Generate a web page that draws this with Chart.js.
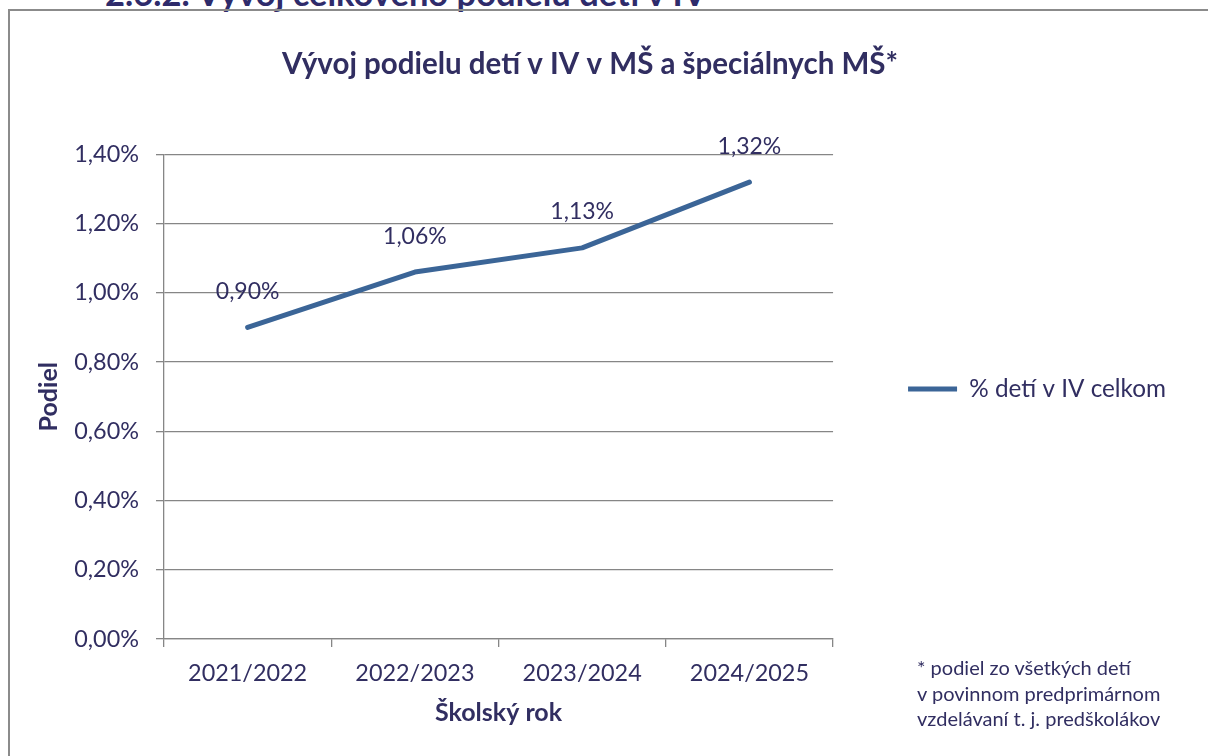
<!DOCTYPE html>
<html lang="sk">
<head>
<meta charset="utf-8">
<title>Vývoj podielu detí v IV</title>
<script src="https://cdn.jsdelivr.net/npm/chart.js@4.4.1/dist/chart.umd.min.js"></script>
<style>
  html, body { margin: 0; padding: 0; background: #ffffff; overflow: hidden; }
  #page { position: relative; width: 1208px; height: 756px; overflow: hidden; background: #ffffff; }
  #heading { position: absolute; left: 105px; top: -24px; font: bold 34.5px Lato, sans-serif; line-height: 34px; color: #2E2B6B; white-space: nowrap; }
  #frame { position: absolute; left: 8px; top: 9px; width: 1400px; height: 900px; border: 2px solid #8B8B8B; box-sizing: border-box; }
  #chartBox { position: absolute; left: 0; top: 0; width: 1208px; height: 756px; }
  #footnote { position: absolute; left: 917px; top: 655px; font: 20px Lato, sans-serif; line-height: 25.5px; color: #312E61; white-space: nowrap; }
</style>
</head>
<body>
<div id="page">
  <div id="heading"></div>
  <div id="frame"></div>
  <div id="chartBox"><canvas id="chart"></canvas></div>
  <div id="footnote"></div>
</div>
<script>
// ---- data ----
const headingText = '2.6.2. Vývoj celkového podielu detí v IV';
const chartTitle = 'Vývoj podielu detí v IV v MŠ a špeciálnych MŠ*';
const categories = ['2021/2022', '2022/2023', '2023/2024', '2024/2025'];
const shareValues = [0.90, 1.06, 1.13, 1.32];
const seriesLabel = '% detí v IV celkom';
const xAxisTitle = 'Školský rok';
const yAxisTitle = 'Podiel';
const yMin = 0;
const yMax = 1.4;
const yStep = 0.2;
const footnoteLines = ['* podiel zo všetkých detí', 'v povinnom predprimárnom', 'vzdelávaní t. j. predškolákov'];

// ---- text outside the chart ----
document.getElementById('heading').textContent = headingText;
document.getElementById('footnote').innerHTML = footnoteLines.map(l => '<div>' + l + '</div>').join('');

const navy = '#312E61';
const gridGray = '#868686';
const lineBlue = '#3B6597';
const fmtPct = v => v.toFixed(2).replace('.', ',') + '%';

const dataLabels = {
  id: 'dataLabels',
  afterDatasetsDraw(chart) {
    const ctx = chart.ctx;
    const meta = chart.getDatasetMeta(0);
    const ds = chart.data.datasets[0];
    ctx.save();
    ctx.font = '23px Lato, sans-serif';
    ctx.fillStyle = navy;
    ctx.textAlign = 'center';
    ctx.textBaseline = 'middle';
    meta.data.forEach((pt, i) => {
      ctx.fillText(fmtPct(ds.data[i]), pt.x, pt.y - 36);
    });
    ctx.restore();
  }
};

new Chart(document.getElementById('chart'), {
  type: 'line',
  data: {
    labels: categories,
    datasets: [{
      label: seriesLabel,
      data: shareValues,
      borderColor: lineBlue,
      backgroundColor: lineBlue,
      borderWidth: 5,
      borderCapStyle: 'round',
      borderJoinStyle: 'round',
      pointRadius: 0,
      pointHoverRadius: 0,
      tension: 0,
      fill: false,
      clip: false
    }]
  },
  options: {
    responsive: true,
    maintainAspectRatio: false,
    animation: false,
    events: [],
    layout: { padding: { left: 4, right: 32, top: 0, bottom: 0 } },
    plugins: {
      title: {
        display: true,
        text: chartTitle,
        color: navy,
        font: { family: 'Lato', size: 29.5, weight: 'bold', lineHeight: 1.2 },
        padding: { top: 47, bottom: 72 }
      },
      legend: {
        display: true,
        position: 'right',
        maxWidth: 420,
        title: { display: true, text: ' ', font: { size: 10, lineHeight: 1.2 }, padding: 5 },
        labels: {
          color: navy,
          font: { family: 'Lato', size: 24.3 },
          usePointStyle: true,
          pointStyle: 'line',
          pointStyleWidth: 49,
          padding: 75
        }
      },
      tooltip: { enabled: false }
    },
    scales: {
      x: {
        type: 'category',
        offset: true,
        afterFit(scale) { scale.height = 117; },
        grid: { offset: true, drawOnChartArea: false, drawTicks: true, tickLength: 8, color: gridGray, lineWidth: 1.3 },
        border: { display: true, color: gridGray, width: 1.3 },
        ticks: { color: navy, font: { family: 'Lato', size: 23.4 }, padding: 12, maxRotation: 0 },
        title: {
          display: true, text: xAxisTitle, color: navy,
          font: { family: 'Lato', size: 25, weight: 'bold', lineHeight: 1.2 },
          padding: { top: 0, bottom: 28 }
        }
      },
      y: {
        min: yMin,
        max: yMax,
        afterFit(scale) { scale.width = 160; },
        grid: { drawTicks: true, tickLength: 8, color: gridGray, lineWidth: 1.3 },
        border: { display: true, color: gridGray, width: 1.3 },
        ticks: { stepSize: yStep, color: navy, font: { family: 'Lato', size: 23.4 }, padding: 17, callback: v => fmtPct(v) },
        title: {
          display: true, text: yAxisTitle, color: navy,
          font: { family: 'Lato', size: 25, weight: 'bold', lineHeight: 1.2 },
          padding: { top: 30, bottom: 0 }
        }
      }
    }
  },
  plugins: [dataLabels]
});
</script>
</body>
</html>
